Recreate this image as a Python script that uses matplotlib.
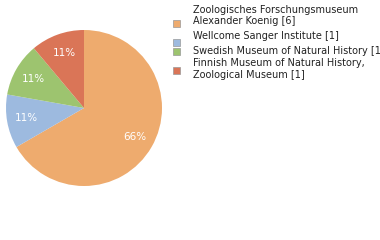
import matplotlib.pyplot as plt
from matplotlib.patches import Rectangle

labels = ['Zoologisches Forschungsmuseum\nAlexander Koenig [6]',
          'Wellcome Sanger Institute [1]',
          'Swedish Museum of Natural History [1]',
          'Finnish Museum of Natural History,\nZoological Museum [1]']
counts = [6, 1, 1, 1]
colors = ['#EEAB6E', '#9DBADF', '#9DC46F', '#DA7557']

W, H = 380, 240
fig = plt.figure(figsize=(W / 100, H / 100), dpi=100)

# pie: centre (84,108) px, radius 78 px
cx, cy, r = 84, 108, 78
ax = fig.add_axes([(cx - r) / W, (H - cy - r) / H, 2 * r / W, 2 * r / H])
ax.pie(counts, colors=colors, startangle=90, counterclock=False,
       autopct=lambda p: f'{int(p)}%', pctdistance=0.75, radius=1,
       textprops={'color': 'white', 'fontsize': 7.5})
ax.set_xlim(-1, 1)
ax.set_ylim(-1, 1)
ax.set_aspect('equal')
ax.axis('off')

# legend, drawn by hand (pixel positions from the top)
baselines = [12.7, 39, 54, 66]
square_y = [23, 42, 51, 70]
line_gap = 11.8
for lab, col, by, sy in zip(labels, colors, baselines, square_y):
    fig.patches.append(Rectangle((173 / W, 1 - (sy + 3.5) / H), 7 / W, 7 / H,
                                 transform=fig.transFigure, facecolor=col,
                                 edgecolor='#999999', linewidth=0.5))
    for j, line in enumerate(lab.split('\n')):
        fig.text(193 / W, 1 - (by + j * line_gap) / H, line, ha='left',
                 va='baseline', fontsize=7, color='#222222')

fig.savefig('out.png', dpi=100)
